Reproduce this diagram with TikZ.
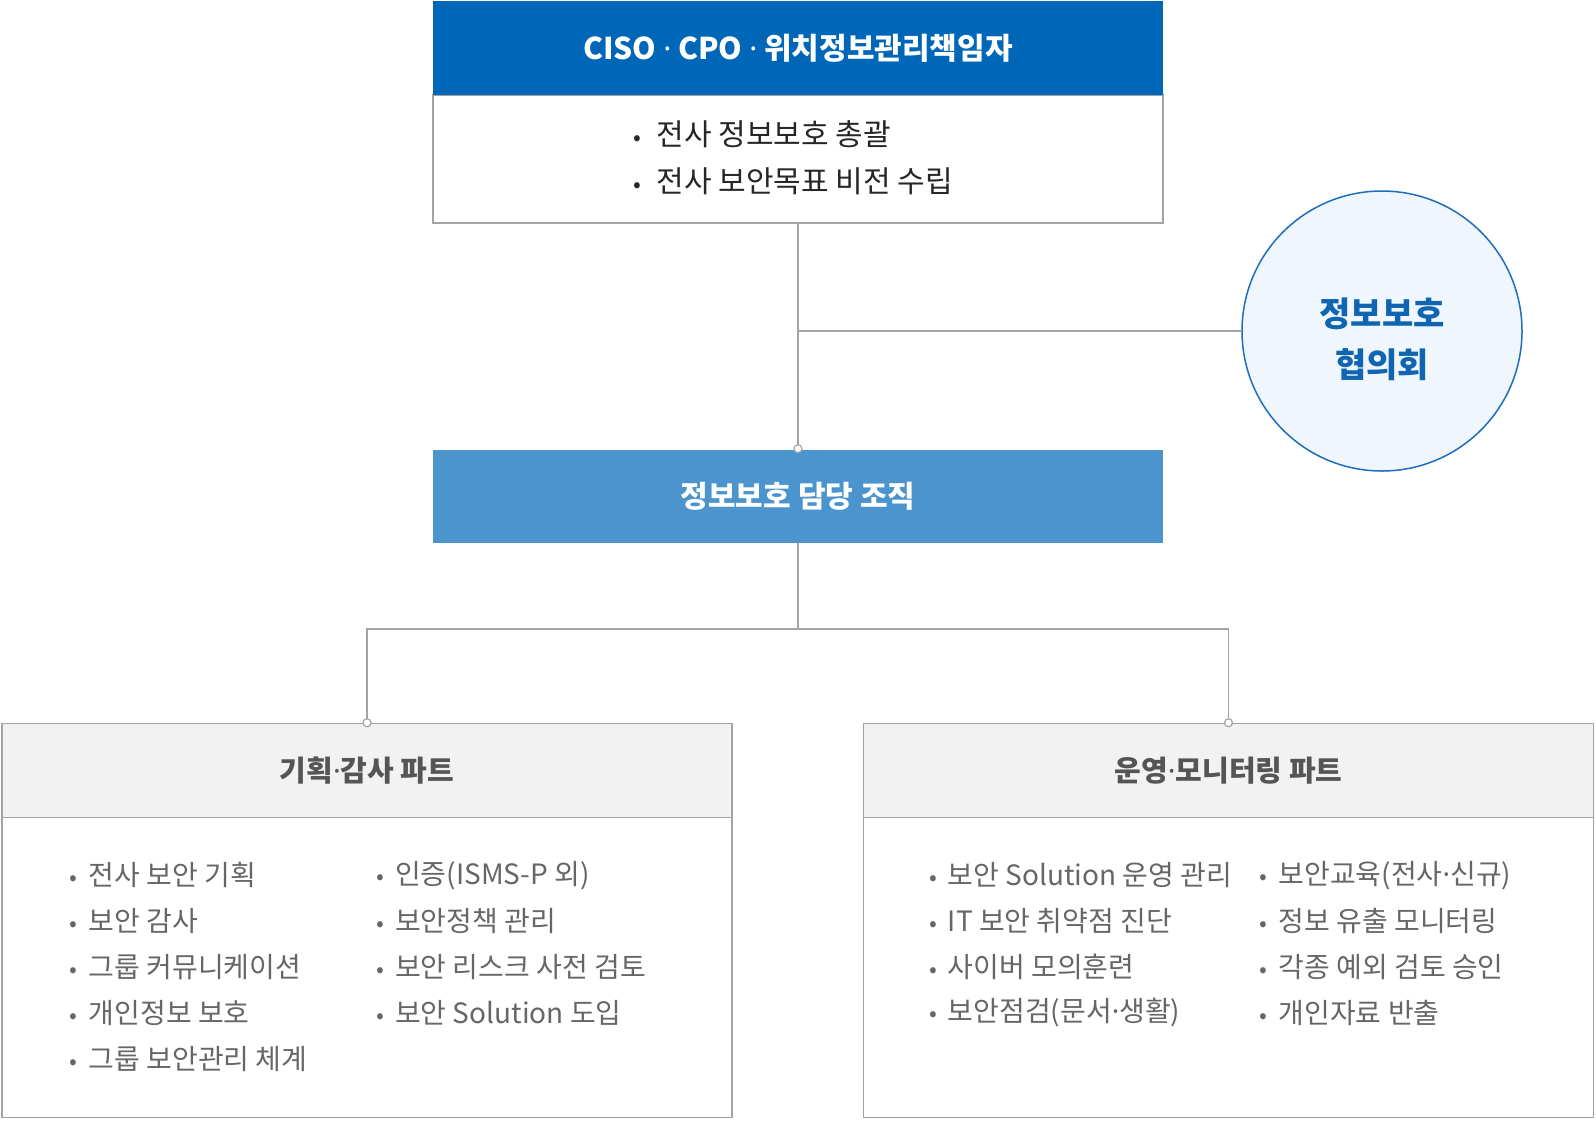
\documentclass[tikz,border=0pt]{standalone}
\usepackage{fontspec}
\setmainfont{Noto Sans CJK KR}
\newfontfamily\latinfont{Noto Sans}
\usepackage{tikz}

\definecolor{cisoblue}{HTML}{0067B8}
\definecolor{teamblue}{HTML}{4B94CE}
\definecolor{roundfill}{HTML}{F0F6FD}
\definecolor{roundline}{HTML}{1C6EBC}
\definecolor{roundtext}{HTML}{1065B2}
\definecolor{linegray}{HTML}{A3A3A3}
\definecolor{headfill}{HTML}{F2F2F2}
\definecolor{headtext}{HTML}{555555}
\definecolor{itemtext}{HTML}{666666}

\newcommand\itm[2][30pt]{\llap{\makebox[#1]{\fontsize{23}{23}\selectfont•}}#2}
\newcommand\md{{\latinfont ·}}

\begin{document}
\begin{tikzpicture}[x=1pt,y=-1pt,
	box/.style={rectangle,inner sep=0pt,minimum width=730pt,line width=1.5pt},
	line/.style={draw=linegray,line width=1.5pt},
	dot/.style={circle,draw=linegray,fill=white,line width=1.2pt,inner sep=0pt,minimum size=8pt},
	title/.style={font=\fontsize{29}{34}\selectfont\bfseries},
	item/.style={anchor=west,inner sep=0pt,text=itemtext,font=\fontsize{28}{32}\selectfont}]
	\useasboundingbox (0,0) rectangle (1596,1120);
	% top box
	\node[box,draw=linegray,minimum height=128pt] (cisobody) at (798,159) {};
	\node[box,fill=cisoblue,minimum height=94pt,title,font=\fontsize{30}{34}\selectfont\bfseries,text=white] (ciso) at (798,48) {CISO \md{} CPO \md{} 위치정보관리책임자};
	\node[item,text=black!85,font=\fontsize{30}{34}\selectfont] (goal1) at (656.5,134.4) {\itm[38pt]{전사 정보보호 총괄}};
	\node[item,text=black!85,font=\fontsize{30}{34}\selectfont] (goal2) at (656.5,181.2) {\itm[38pt]{전사 보안목표 비전 수립}};
	% middle
	\node[box,fill=teamblue,minimum height=93pt,title,font=\fontsize{30}{34}\selectfont\bfseries,text=white] (team) at (798,496) {정보보호 담당 조직};
	\node[circle,draw=roundline,fill=roundfill,line width=1.5pt,minimum size=280pt,inner sep=0pt] (council) at (1382,331) {};
	\node[text=roundtext,align=center,font=\fontsize{34}{51}\selectfont\bfseries] (councilname) at (1382,339) {정보보호\\협의회};
	% parts
	\node[box,draw=linegray,minimum height=300pt] (planbody) at (367,967.5) {};
	\node[box,draw=linegray,fill=headfill,minimum height=94pt,title,text=headtext] (planhead) at (367,770.5) {기획\md 감사 파트};
	\node[box,draw=linegray,minimum height=300pt] (opsbody) at (1228.5,967.5) {};
	\node[box,draw=linegray,fill=headfill,minimum height=94pt,title,text=headtext] (opshead) at (1228.5,770.5) {운영\md 모니터링 파트};
	% connectors
	\coordinate (join) at (798,331);
	\coordinate (split) at (798,629);
	\draw[line] (cisobody.south) -- (team.north);
	\draw[line] (join) -- (council.west);
	\draw[line] (team.south) -- (split);
	\draw[line] (planhead.north) |- (split) -| (opshead.north);
	\node[dot] (teamdot) at (team.north) {};
	\node[dot] (plandot) at (planhead.north) {};
	\node[dot] (opsdot) at (opshead.north) {};
	% left items
	\node[item] (p1) at (88.6,875.4) {\itm{전사 보안 기획}};
	\node[item] (p2) at (88.6,921.2) {\itm{보안 감사}};
	\node[item] (p3) at (88.6,967.0) {\itm{그룹 커뮤니케이션}};
	\node[item] (p4) at (88.6,1012.8) {\itm{개인정보 보호}};
	\node[item] (p5) at (88.6,1058.6) {\itm{그룹 보안관리 체계}};
	\node[item] (p6) at (395,875.4) {\itm{인증(ISMS-P 외)}};
	\node[item] (p7) at (395,921.2) {\itm{보안정책 관리}};
	\node[item] (p8) at (395,967.0) {\itm{보안 리스크 사전 검토}};
	\node[item] (p9) at (395,1012.8) {\itm{보안 Solution 도입}};
	% right items
	\node[item] (o1) at (947.7,875.4) {\itm{보안 Solution 운영 관리}};
	\node[item] (o2) at (947.7,921.2) {\itm{IT 보안 취약점 진단}};
	\node[item] (o3) at (947.7,967.0) {\itm{사이버 모의훈련}};
	\node[item] (o4) at (947.7,1012.8) {\itm{보안점검(문서\md 생활)}};
	\node[item] (o5) at (1278.5,875.4) {\itm{보안교육(전사\md 신규)}};
	\node[item] (o6) at (1278.5,921.2) {\itm{정보 유출 모니터링}};
	\node[item] (o7) at (1278.5,967.0) {\itm{각종 예외 검토 승인}};
	\node[item] (o8) at (1278.5,1012.8) {\itm{개인자료 반출}};
\end{tikzpicture}
\end{document}
